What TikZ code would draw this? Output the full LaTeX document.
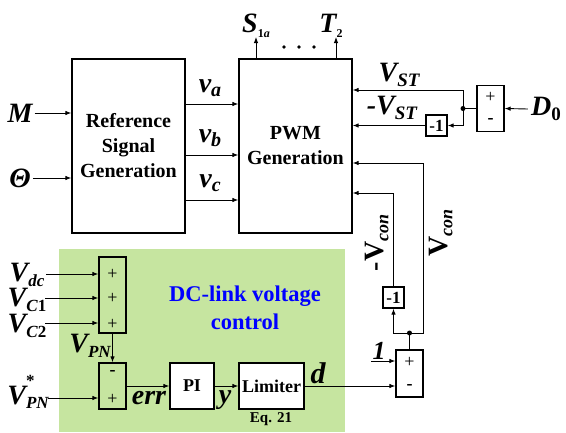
\documentclass[tikz,border=0pt]{standalone}
\usepackage{fontspec}
\setmainfont{Liberation Serif}
\usetikzlibrary{arrows.meta}
\definecolor{dcgreen}{RGB}{198,229,160}
\newcommand{\fsz}[1]{\fontsize{#1}{#1}\selectfont}
\newcommand{\lsub}[2]{\raisebox{-0.35ex}{\fsz{#1}#2}}
\begin{document}
\begin{tikzpicture}[x=1pt,y=-1pt,
  blk/.style={draw, line width=1.3pt, align=center, inner sep=0pt, font=\bfseries\fontsize{20}{25}\selectfont},
  arr/.style={-{Latex[length=6pt,width=4.5pt]}, line width=0.9pt},
  ln/.style={line width=0.9pt},
  lbl/.style={inner sep=0pt, font=\bfseries\itshape\fsz{28}},
  pm/.style={inner sep=0pt, font=\fsz{18}},
  pmm/.style={inner sep=0pt, font=\bfseries\fsz{18}},
  sbox/.style={draw, line width=1.3pt, minimum width=27pt, inner sep=0pt},
  nbox/.style={draw, line width=1.3pt, minimum width=21pt, minimum height=21pt, inner sep=0pt, font=\bfseries\fsz{17}},
  jdot/.style={circle, fill, inner sep=0pt, minimum size=5pt},
]
\useasboundingbox (0,0) rectangle (566,432);
\fill[dcgreen] (59,249) rectangle (345,432);

% main blocks
\node[blk, minimum width=113pt, minimum height=174pt] (ref) at (128.5,146) {Reference\\Signal\\Generation};
\node[blk, minimum width=113pt, minimum height=174pt] (pwm) at (295.5,146) {PWM\\Generation};

% inputs
\node[lbl] (m) at (20,113) {M};
\node[lbl] (th) at (20,178) {Θ};
\draw[arr] ([xshift=2pt]m.east) -- (m.east -| ref.west);
\draw[arr] ([xshift=2pt]th.east) -- (th.east -| ref.west);

% v outputs
\coordinate (ya) at (0,104);
\coordinate (yb) at (0,155);
\coordinate (yc) at (0,200);
\draw[arr] (ref.east |- ya) -- (pwm.west |- ya);
\draw[arr] (ref.east |- yb) -- (pwm.west |- yb);
\draw[arr] (ref.east |- yc) -- (pwm.west |- yc);
\node[lbl] (va) at (210,88) {v\lsub{20}{a}};
\node[lbl] (vb) at (210,138) {v\lsub{20}{b}};
\node[lbl] (vc) at (210,183) {v\lsub{20}{c}};

% gate outputs
\coordinate (sx) at (256,37);
\coordinate (tx) at (336,37);
\draw[arr] (pwm.north -| sx) -- (sx);
\draw[arr] (pwm.north -| tx) -- (tx);
\node[lbl, font=\bfseries\itshape\fsz{28}] (s1a) at (256,26) {S\lsub{12}{\upshape 1\itshape a}};
\node[lbl, font=\bfseries\itshape\fsz{28}] (t2) at (331,26) {T\lsub{12}{\upshape 2}};
\fill (284,47) circle (1.9pt) (299,47) circle (1.9pt) (314,47) circle (1.9pt);

% V_ST part
\node[sbox, minimum height=46pt] (sumD) at (490.5,108.5) {};
\node[pm] at (490.5,97) {+};
\node[pmm] at (490.5,121) {-};
\node[lbl] (d0) at (546,109) {D\lsub{19}{\upshape 0}};
\draw[arr] ([xshift=-3pt]d0.west) -- (sumD.east);
\node[jdot] (j1) at (463,108.5) {};
\draw[ln] (sumD.west) -- (j1.center);
\coordinate (yst) at (0,90);
\draw[arr] (j1.center) |- (pwm.east |- yst);
\node[nbox] (n1a) at (436.5,125.5) {-1};
\draw[arr] (j1.center) |- (n1a.east);
\draw[arr] (n1a.west) -- (n1a.west -| pwm.east);
\node[lbl] (vst) at (399,75) {V\lsub{19}{ST}};
\node[lbl] (mvst) at (392,108) {-V\lsub{19}{ST}};

% V_con feedback
\node[sbox, minimum height=47pt] (sumB) at (409.5,373.5) {};
\node[pm] at (409.5,362) {+};
\node[pmm] at (409.5,387) {-};
\node[jdot] (j2) at (409.5,333) {};
\draw[ln] (sumB.north) -- (j2.center);
\node[nbox] (n1b) at (393.5,297.5) {-1};
\draw[arr] (j2.center) -| (n1b.south);
\coordinate (yvc2) at (0,193);
\draw[arr] (n1b.north) |- (pwm.east |- yvc2);
\coordinate (c1) at (423,163);
\draw[arr] (j2.center) -| (c1) -- (c1 -| pwm.east);
\node[lbl, rotate=90, font=\bfseries\fsz{28}] (mvcon) at (377,243) {-V\lsub{18}{\itshape con}};
\node[lbl, rotate=90, font=\bfseries\fsz{28}] (vcon) at (441,233) {V\lsub{18}{\itshape con}};
\coordinate (one) at (371,361);
\draw[arr] (one) -- (one -| sumB.west);
\node[lbl, font=\bfseries\itshape\fsz{26}] (onel) at (379,351) {1};

% DC-link control
\node[sbox, minimum height=76pt] (sum3) at (112.5,295) {};
\node[pm] at (112.5,274) {+};
\node[pm] at (112.5,298) {+};
\node[pm] at (112.5,324) {+};
\node[lbl] (vdc) at (27,275) {V\lsub{17}{dc}};
\node[lbl] (vc1) at (27,300) {V\lsub{17}{C\upshape 1}};
\node[lbl] (vc2) at (27,326) {V\lsub{17}{C\upshape 2}};
\coordinate (a1) at (46,274);
\coordinate (a2) at (45,298);
\coordinate (a3) at (45,323);
\draw[arr] (a1) -- (a1 -| sum3.west);
\draw[arr] (a2) -- (a2 -| sum3.west);
\draw[arr] (a3) -- (a3 -| sum3.west);

\node[sbox, minimum height=46pt] (sum2) at (112.5,386) {};
\node[pmm] at (112.5,373) {-};
\node[pm] at (112.5,399) {+};
\draw[arr] (sum3.south) -- (sum2.north);
\node[lbl] (vpn) at (90,346) {V\lsub{17}{PN}};
\node[lbl] (vpns) at (28,392) {V\rlap{\raisebox{1.4ex}{\fsz{17}\upshape *}}\lsub{17}{PN}};
\coordinate (a4) at (48,398);
\draw[arr] (a4) -- (a4 -| sum2.west);

\node[blk, fill=white, minimum width=44pt, minimum height=46pt, font=\bfseries\fsz{18}] (pi) at (192,386) {PI};
\node[blk, fill=white, minimum width=65pt, minimum height=46pt, font=\bfseries\fsz{18}] (lim) at (271.5,386) {Limiter};
\draw[arr] (sum2.east) -- (pi.west);
\draw[arr] (pi.east) -- (lim.west);
\draw[arr] (lim.east) -- (lim.east -| sumB.west);
\node[lbl] (err) at (149,398) {err};
\node[lbl] (yl) at (225,400) {y};
\node[lbl, font=\bfseries\itshape\fsz{30}] (dl) at (318,373) {d};
\node[inner sep=0pt, font=\bfseries\fsz{15}] (eq) at (271,419) {Eq. 21};
\node[inner sep=0pt, align=center, text=blue, font=\bfseries\fontsize{22.5}{28}\selectfont] (dct) at (245,308) {DC-link voltage\\control};
\end{tikzpicture}
\end{document}
